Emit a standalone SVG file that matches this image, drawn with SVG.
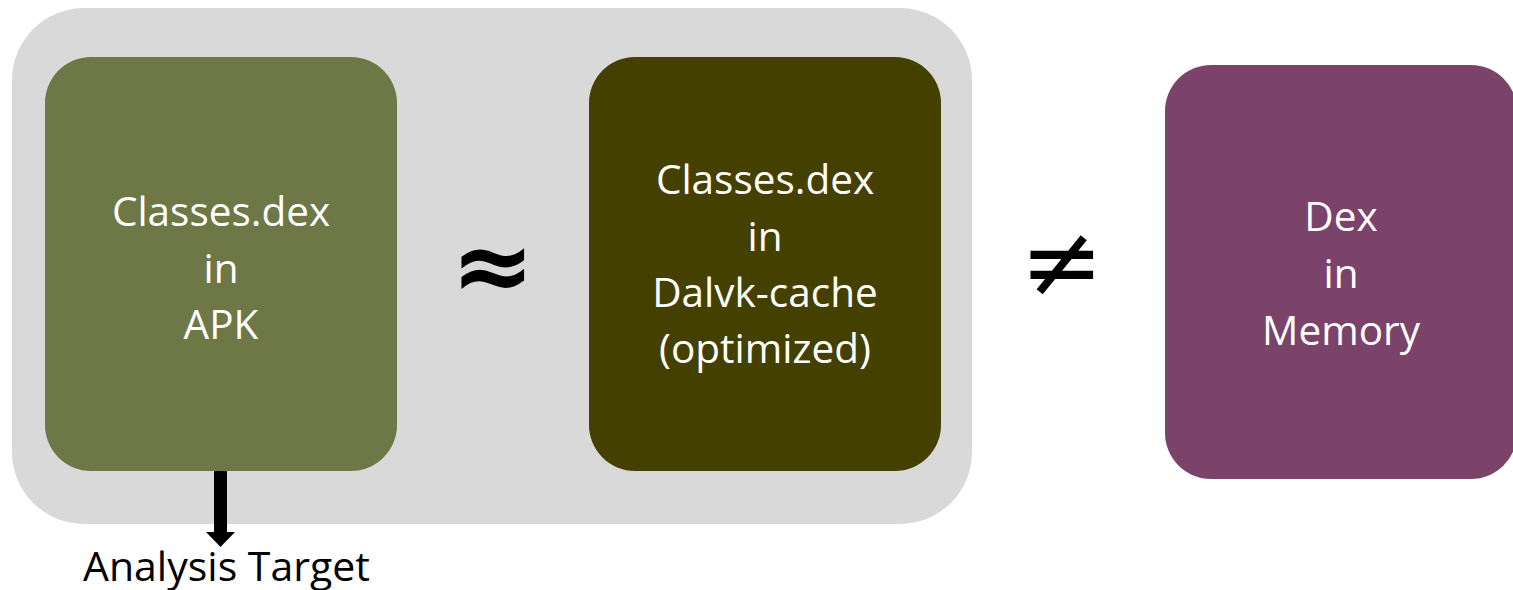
<svg xmlns="http://www.w3.org/2000/svg" width="1513" height="590" viewBox="0 0 1513 590">
  <style>
    .label { font-family: "Open Sans", "Liberation Sans", sans-serif; font-size: 40.5px; fill: #ffffff; text-anchor: middle; }
    .sym { font-family: "DejaVu Sans", "Liberation Sans", sans-serif; fill: #000000; text-anchor: middle; }
    .caption { font-family: "Open Sans", "Liberation Sans", sans-serif; font-size: 41px; fill: #000000; }
  </style>
  <rect width="1513" height="590" fill="#ffffff"/>

  <!-- shared container for the on-disk dex files -->
  <g id="container">
    <rect x="12" y="8" width="960" height="516" rx="72" ry="72" fill="#d9d9d9"/>
  </g>

  <g id="apk-dex">
    <rect x="45" y="57" width="352" height="414" rx="46" ry="46" fill="#6e7746"/>
    <text class="label" x="221" y="226">Classes.dex</text>
    <text class="label" x="221" y="283">in</text>
    <text class="label" x="221" y="339">APK</text>
  </g>

  <g id="approx">
    <text class="sym" x="493" y="300" font-size="100" font-weight="bold">≈</text>
  </g>

  <g id="cache-dex">
    <rect x="589" y="57" width="352" height="414" rx="46" ry="46" fill="#444100"/>
    <text class="label" x="765" y="194">Classes.dex</text>
    <text class="label" x="765" y="251">in</text>
    <text class="label" x="765" y="307">Dalvk-cache</text>
    <text class="label" x="765" y="363">(optimized)</text>
  </g>

  <g id="not-equal">
    <text class="sym" x="1062" y="296" font-size="100">≠</text>
  </g>

  <g id="memory-dex">
    <rect x="1165" y="65" width="352" height="414" rx="46" ry="46" fill="#7b4369"/>
    <text class="label" x="1341" y="231">Dex</text>
    <text class="label" x="1341" y="288">in</text>
    <text class="label" x="1341" y="345">Memory</text>
  </g>

  <g id="connectors">
    <polygon points="214,471 227,471 227,532 235,532 220.5,547 206,532 214,532" fill="#000000"/>
  </g>

  <g id="analysis-target">
    <text class="caption" x="83" y="581">Analysis Target</text>
  </g>
</svg>
